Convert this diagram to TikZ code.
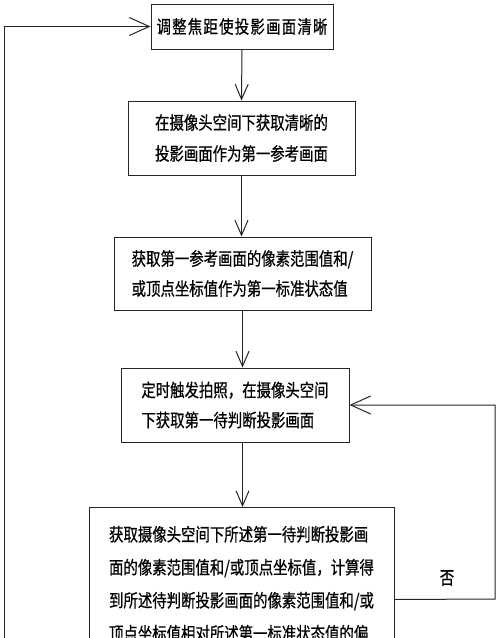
\documentclass[tikz,border=0pt]{standalone}
\usepackage{fontspec}
\usetikzlibrary{arrows.meta}
\newfontfamily\cjk[FakeStretch=0.8,FakeBold=0.6]{Noto Sans CJK SC}
\newfontfamily\cjkwide[FakeStretch=0.8,FakeBold=0.6,LetterSpace=7]{Noto Sans CJK SC}
\begin{document}
\begin{tikzpicture}[x=1pt,y=-1pt,
  box/.style={draw=black!85,line width=1pt,rectangle,align=left,inner sep=0pt,
    font=\cjk\fontsize{18}{31}\selectfont},
  varr/.style={draw=black!85,line width=1pt,-{Straight Barb[length=15pt,width=13pt,line width=1pt]}},
  harr/.style={draw=black!85,line width=1pt,-{Straight Barb[length=20pt,width=18pt,line width=1pt]}},
  lbl/.style={font=\cjk\fontsize{18}{20}\selectfont,inner sep=0pt}]
\useasboundingbox (0,0) rectangle (500,638);
\fill[white] (0,0) rectangle (500,638);
\clip (0,0) rectangle (500,638);

\node[box,minimum width=182pt,minimum height=45pt,font=\cjkwide\fontsize{18}{31}\selectfont] (b1) at (242,26.5) {调整焦距使投影画面清晰};
\node[box,minimum width=227pt,minimum height=74pt] (b2) at (241.5,138) {在摄像头空间下获取清晰的\\投影画面作为第一参考画面};
\node[box,minimum width=257pt,minimum height=73pt,font=\cjk\fontsize{18}{30}\selectfont] (b3) at (242.5,273.5) {获取第一参考画面的像素范围值和/\\或顶点坐标值作为第一标准状态值};
\node[box,minimum width=228pt,minimum height=74pt,font=\cjk\fontsize{18}{30}\selectfont] (b4) at (235,405) {定时触发拍照，在摄像头空间\\下获取第一待判断投影画面};
\node[box,anchor=north,minimum width=305pt,minimum height=184pt,font=\cjk\fontsize{18}{33}\selectfont] (b5) at (241.5,507) {获取摄像头空间下所述第一待判断投影画\\面的像素范围值和/或顶点坐标值，计算得\\到所述待判断投影画面的像素范围值和/或\\顶点坐标值相对所述第一标准状态值的偏\\\mbox{}};

\node[lbl] (no) at (447,578) {否};
\coordinate (yesend) at (4,720);
\coordinate (rt) at (495,599);

\draw[varr] (b1.south) -- (b2.north);
\draw[varr] (b2.south) -- (b2.south |- b3.north);
\draw[varr] (b3.south) -- (b3.south |- b4.north);
\draw[varr] (b3.south |- b4.south) -- (b3.south |- b5.north);
\draw[harr] (b5.east) -- (rt) |- (b4.east);
\draw[harr] (yesend) |- (b1.west);
\end{tikzpicture}
\end{document}
